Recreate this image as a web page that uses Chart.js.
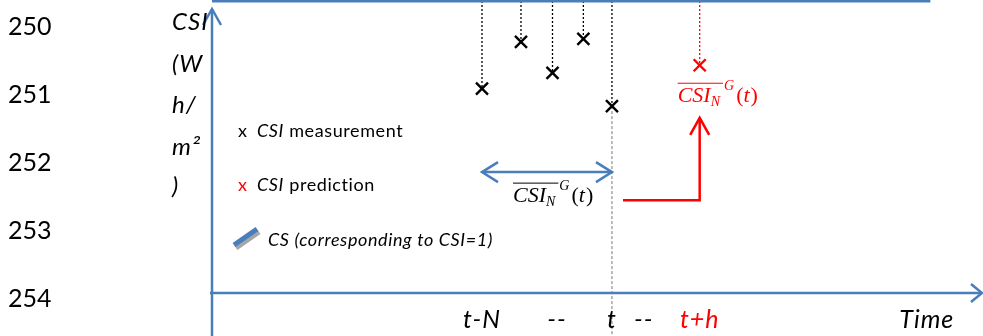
<!DOCTYPE html>
<html lang="en">
<head>
<meta charset="UTF-8">
<title>CSI prediction diagram</title>
<script src="https://cdn.jsdelivr.net/npm/chart.js@4.4.0/dist/chart.umd.min.js"></script>
<style>body{margin:0;background:#fff}</style>
</head>
<body>
<canvas id="chart" width="983" height="336"></canvas>
<script>
// time axis: t-N = 0, t = 4
const measureTimes = [0, 1.2, 2.17, 3.12, 4];
const measureCSI = [0.70, 0.86, 0.754, 0.87, 0.64];
const predTime = 6.7;
const predCSI = 0.78;
const csLevel = 1;          // CS line, CSI = 1
const csEnd = 13.8;
const tickTimes = [0, 2.31, 4, 4.98, 6.7, 13.69];
const tickLabels = ['t-N', '--', 't', '--', 't+h', 'Time'];
const tickColors = ['#000', '#000', '#000', '#000', '#f00', '#000'];
const yLabelLines = ['CSI', '(W', 'h/', 'm²', ')'];
const lineNumbers = ['250', '251', '252', '253', '254'];
const avgLevel = 0.414;     // blue double arrow (averaging window)
const stepLevel = 0.318;    // red elbow arrow
const stepStart = 4.34;
const stepTop = 0.6;
const xMin = -8.31, xMax = 15.42;

const blue = '#4a7ebb';
const red = '#ff0000';

// dotted drop lines from the CS line to every measurement
const dropData = [];
measureTimes.forEach((t, i) => {
    dropData.push({ x: t, y: csLevel }, { x: t, y: measureCSI[i] }, { x: t, y: null });
});

function arms(ctx, tx, ty, dx, dy, back, side) {
    ctx.beginPath();
    ctx.moveTo(tx - dx * back - dy * side, ty - dy * back + dx * side);
    ctx.lineTo(tx, ty);
    ctx.lineTo(tx - dx * back + dy * side, ty - dy * back - dx * side);
    ctx.stroke();
}

function seg(ctx, x1, y1, x2, y2) {
    ctx.beginPath();
    ctx.moveTo(x1, y1);
    ctx.lineTo(x2, y2);
    ctx.stroke();
}

function mathLabel(ctx, left, base, color) {
    ctx.fillStyle = color;
    ctx.strokeStyle = color;
    ctx.textAlign = 'left';
    ctx.textBaseline = 'alphabetic';
    ctx.font = 'italic 22px "Liberation Serif"';
    ctx.fillText('CSI', left, base);
    let w = ctx.measureText('CSI').width;
    ctx.font = 'italic 14px "Liberation Serif"';
    ctx.fillText('N', left + w, base + 4);
    const nw = ctx.measureText('N').width;
    ctx.lineWidth = 1;
    seg(ctx, left, base - 19, left + w + nw + 3, base - 19);
    ctx.fillText('G', left + w + nw + 4, base - 12);
    let cx = left + w + nw + 4 + ctx.measureText('G').width + 2;
    ctx.font = '22px "Liberation Serif"';
    ctx.fillText('(', cx, base);
    cx += ctx.measureText('(').width;
    ctx.font = 'italic 22px "Liberation Serif"';
    ctx.fillText('t', cx, base);
    cx += ctx.measureText('t').width + 1;
    ctx.font = '22px "Liberation Serif"';
    ctx.fillText(')', cx, base);
}

const diagram = {
    id: 'diagram',
    beforeDatasetsDraw(chart) {
        const { ctx, chartArea: a, scales: { x, y } } = chart;
        ctx.save();
        ctx.strokeStyle = blue;
        ctx.lineWidth = 2.5;
        // axes with arrows
        seg(ctx, a.left, chart.height, a.left, 9);
        arms(ctx, a.left, 9, 0, -1, 16, 9);
        const y0 = y.getPixelForValue(0);
        seg(ctx, a.left - 2, y0, chart.width - 1, y0);
        arms(ctx, chart.width - 1, y0, 1, 0, 11, 9);
        ctx.restore();
    },
    afterDatasetsDraw(chart) {
        const { ctx, chartArea: a, scales: { x, y } } = chart;
        ctx.save();

        // averaging window double arrow
        const xa = x.getPixelForValue(measureTimes[0]);
        const xb = x.getPixelForValue(measureTimes[measureTimes.length - 1]);
        const ya = y.getPixelForValue(avgLevel);
        ctx.strokeStyle = blue;
        ctx.lineWidth = 2.5;
        seg(ctx, xa, ya, xb, ya);
        arms(ctx, xa, ya, -1, 0, 16, 10);
        arms(ctx, xb, ya, 1, 0, 16, 10);

        // red elbow arrow to the prediction
        const xs = x.getPixelForValue(stepStart);
        const xp = x.getPixelForValue(predTime);
        const ys = y.getPixelForValue(stepLevel);
        const yt = y.getPixelForValue(stepTop);
        ctx.strokeStyle = red;
        ctx.lineWidth = 2.5;
        ctx.beginPath();
        ctx.moveTo(xs, ys);
        ctx.lineTo(xp, ys);
        ctx.lineTo(xp, yt);
        ctx.stroke();
        arms(ctx, xp, yt, 0, -1, 17, 9.5);

        // math labels
        mathLabel(ctx, xa + 31, ya + 30, '#000');
        mathLabel(ctx, xp - 22, y.getPixelForValue(predCSI) + 37, red);

        // margin line numbers
        ctx.fillStyle = '#000';
        ctx.textAlign = 'left';
        ctx.font = '25px Lato';
        lineNumbers.forEach((s, i) => ctx.fillText(s, 8, 35 + 68 * i));

        // y axis title
        ctx.font = 'italic 24px Lato';
        ctx.letterSpacing = '1px';
        const yBase = [30, 72, 113, 155, 194];
        yLabelLines.forEach((s, i) => ctx.fillText(s, 172, yBase[i]));

        // time tick labels
        ctx.textAlign = 'center';
        ctx.font = 'italic 25px Lato';
        tickLabels.forEach((s, i) => {
            ctx.fillStyle = tickColors[i];
            ctx.fillText(s, x.getPixelForValue(tickTimes[i]), 328);
        });

        // legend
        ctx.textAlign = 'left';
        ctx.letterSpacing = '0.6px';
        const lx = 238;
        const items = [['#000', ' measurement', 137], [red, ' prediction', 191]];
        items.forEach(([c, txt, b]) => {
            ctx.font = '18px Lato';
            ctx.fillStyle = c;
            ctx.fillText('x', lx, b);
            ctx.fillStyle = '#000';
            ctx.font = 'italic 18px Lato';
            ctx.fillText('CSI', lx + 19, b);
            const w = ctx.measureText('CSI').width;
            ctx.font = '18px Lato';
            ctx.fillText(txt, lx + 19 + w, b);
        });
        ctx.lineCap = 'butt';
        ctx.lineWidth = 5;
        ctx.strokeStyle = '#a6a6a6';
        seg(ctx, 236, 248, 259, 232);
        ctx.strokeStyle = blue;
        seg(ctx, 234, 245, 257, 229);
        ctx.fillStyle = '#000';
        ctx.font = 'italic 18px Lato';
        ctx.fillText('CS (corresponding to CSI=1)', 268, 246);

        ctx.restore();
    }
};

new Chart(document.getElementById('chart'), {
    type: 'scatter',
    data: {
        datasets: [
            {
                label: 'CSI measurement',
                data: measureTimes.map((t, i) => ({ x: t, y: measureCSI[i] })),
                pointStyle: 'crossRot',
                pointRadius: 8.5,
                borderColor: '#000',
                pointBorderWidth: 2.4,
                order: 0
            },
            {
                label: 'CSI prediction',
                data: [{ x: predTime, y: predCSI }],
                pointStyle: 'crossRot',
                pointRadius: 8.5,
                borderColor: red,
                pointBorderWidth: 2.4,
                order: 0
            },
            {
                label: 'CS',
                data: [{ x: xMin, y: csLevel }, { x: csEnd, y: csLevel }],
                showLine: true,
                pointRadius: 0,
                borderColor: blue,
                borderWidth: 3,
                order: 1
            },
            {
                label: 'drop lines',
                data: dropData,
                showLine: true,
                spanGaps: false,
                pointRadius: 0,
                borderColor: '#000',
                borderWidth: 1.3,
                borderDash: [2, 2],
                order: 2
            },
            {
                label: 'prediction drop',
                data: [{ x: predTime, y: csLevel }, { x: predTime, y: predCSI }],
                showLine: true,
                pointRadius: 0,
                borderColor: red,
                borderWidth: 1.3,
                borderDash: [2, 2],
                order: 2
            },
            {
                label: 'time t',
                data: [{ x: 4, y: measureCSI[4] }, { x: 4, y: -0.15 }],
                showLine: true,
                pointRadius: 0,
                borderColor: '#777',
                borderWidth: 1,
                borderDash: [3, 2],
                order: 2
            }
        ]
    },
    options: {
        responsive: false,
        animation: false,
        devicePixelRatio: 1,
        clip: false,
        layout: { autoPadding: false, padding: { left: 212, right: 0, top: 1, bottom: 43 } },
        plugins: { legend: { display: false }, tooltip: { enabled: false } },
        scales: {
            x: { type: 'linear', min: xMin, max: xMax, display: false },
            y: { type: 'linear', min: 0, max: 1, display: false }
        }
    },
    plugins: [diagram]
});
</script>
</body>
</html>
